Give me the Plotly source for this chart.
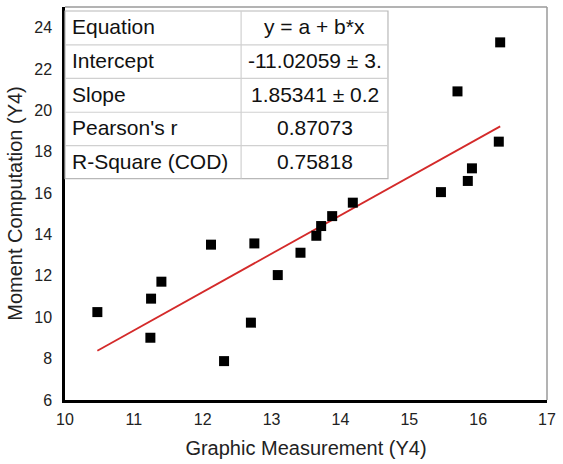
import plotly.graph_objects as go

# ---- data ----
x_vals = [10.47, 11.25, 11.24, 11.40, 12.12, 12.31, 12.70, 12.75, 13.09, 13.42,
          13.65, 13.72, 13.88, 14.18, 15.46, 15.85, 15.91, 16.30, 15.70, 16.32]
y_vals = [10.25, 10.90, 9.01, 11.72, 13.51, 7.88, 9.74, 13.57, 12.04, 13.12,
          13.94, 14.41, 14.89, 15.54, 16.05, 16.59, 17.20, 18.49, 20.92, 23.29]
intercept = -11.02059
slope = 1.85341
table_labels = ["Equation", "Intercept", "Slope", "Pearson's r", "R-Square (COD)"]
table_values = ["y = a + b*x", "-11.02059 ± 3.", "1.85341 ± 0.2", "0.87073", "0.75818"]
x_ticks = [10, 11, 12, 13, 14, 15, 16, 17]
y_ticks = [6, 8, 10, 12, 14, 16, 18, 20, 22, 24]

# ---- layout geometry ----
W, H = 563, 464
L, R, T, B = 65, 10, 7, 63
PW, PH = W - L - R, H - T - B


def px(xpix):
    return (xpix - L) / PW


def py(ypix):
    return (H - B - ypix) / PH


FONT = "Liberation Sans, Arial, sans-serif"

fig = go.Figure()

x_line = [min(x_vals), max(x_vals)]
y_line = [intercept + slope * v for v in x_line]
fig.add_trace(go.Scatter(x=x_line, y=y_line, mode="lines",
                         line=dict(color="#d42a2a", width=1.8), hoverinfo="skip"))
fig.add_trace(go.Scatter(x=x_vals, y=y_vals, mode="markers",
                         marker=dict(symbol="square", size=10, color="black",
                                     line=dict(width=0))))

shapes = []
# top & right frame (gray)
shapes.append(dict(type="line", xref="paper", yref="paper", x0=0, x1=1, y0=1, y1=1,
                   line=dict(color="#9a9a9a", width=1.5)))
shapes.append(dict(type="line", xref="paper", yref="paper", x0=1, x1=1, y0=0, y1=1,
                   line=dict(color="#9a9a9a", width=1.5)))

# table
tl, tr, tdiv = 65, 392, 243.3
row_y = [11, 45, 78.5, 112.5, 146, 179]
shapes.append(dict(type="rect", xref="paper", yref="paper", x0=px(tl), x1=px(tr),
                   y0=py(row_y[-1]), y1=py(row_y[0]), fillcolor="white",
                   line=dict(color="#b8b8b8", width=1.2), layer="above"))
for ry in row_y[1:-1]:
    shapes.append(dict(type="line", xref="paper", yref="paper", x0=px(tl), x1=px(tr),
                       y0=py(ry), y1=py(ry), line=dict(color="#d0d0d0", width=1.2)))
shapes.append(dict(type="line", xref="paper", yref="paper", x0=px(tdiv), x1=px(tdiv),
                   y0=py(row_y[-1]), y1=py(row_y[0]), line=dict(color="#d0d0d0", width=1.2)))

annotations = []
for i, (lab, val) in enumerate(zip(table_labels, table_values)):
    yc = (row_y[i] + row_y[i + 1]) / 2 - 1
    annotations.append(dict(xref="paper", yref="paper", x=px(tl + 5), y=py(yc),
                            text=lab, showarrow=False, xanchor="left", yanchor="middle",
                            font=dict(family=FONT, size=21, color="#111")))
    annotations.append(dict(xref="paper", yref="paper", x=px((tdiv + tr) / 2), y=py(yc),
                            text=val, showarrow=False, xanchor="center", yanchor="middle",
                            font=dict(family=FONT, size=21, color="#111")))

fig.update_layout(
    width=W, height=H,
    margin=dict(l=L, r=R, t=T, b=B),
    paper_bgcolor="white", plot_bgcolor="white",
    showlegend=False,
    shapes=shapes, annotations=annotations,
    font=dict(family=FONT, color="#222"),
    xaxis=dict(range=[10, 17], tickvals=x_ticks, showgrid=False, zeroline=False,
               showline=True, linecolor="black", linewidth=2.5, ticks="",
               ticklabelstandoff=3,
               tickfont=dict(size=16, color="#222"),
               title=dict(text="Graphic Measurement (Y4)", font=dict(size=20, color="#222"),
                          standoff=15)),
    yaxis=dict(range=[6, 25], tickvals=y_ticks, showgrid=False, zeroline=False,
               showline=True, linecolor="black", linewidth=2.5, ticks="",
               ticklabelstandoff=7,
               tickfont=dict(size=16, color="#222"),
               title=dict(text="Moment Computation (Y4)", font=dict(size=20, color="#222"),
                          standoff=7)),
)

fig.write_html("out.html")
